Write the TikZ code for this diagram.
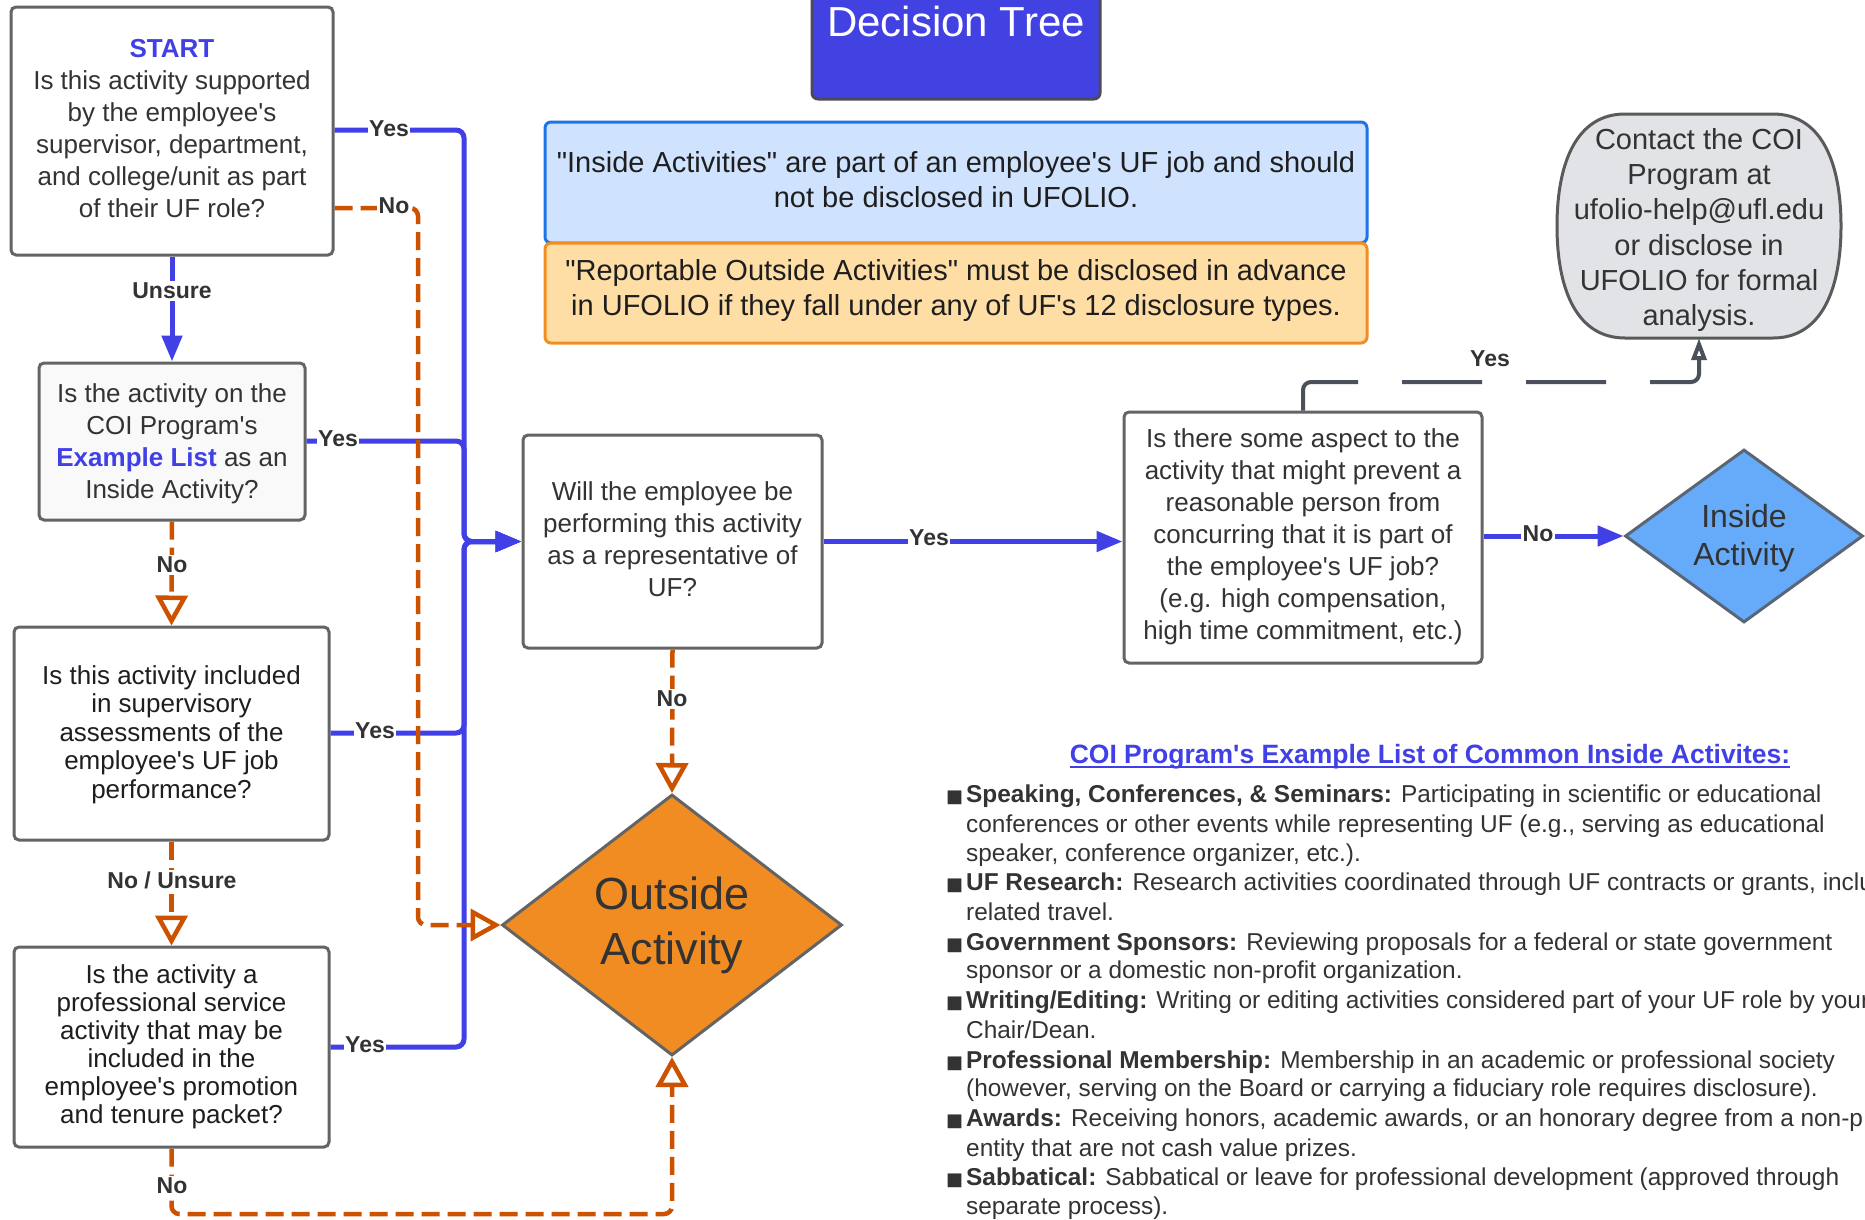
\documentclass[tikz,border=0pt]{standalone}
\usepackage{fontspec}
\setmainfont{Liberation Sans}
\newfontfamily\uffont{Liberation Sans}
\newfontfamily\dejavu{DejaVu Sans}
\usetikzlibrary{arrows.meta,shapes.geometric,calc}
\definecolor{cblue}{HTML}{4040E6}
\definecolor{corange}{HTML}{CC5200}
\definecolor{cgrayline}{HTML}{4B505A}
\definecolor{boxborder}{HTML}{646464}
\definecolor{txt}{HTML}{333333}
\definecolor{txtdark}{HTML}{1E1E1E}
\definecolor{outfill}{HTML}{F08C22}
\definecolor{infill}{HTML}{66AAFA}
\definecolor{inborder}{HTML}{5A6676}
\definecolor{contactfill}{HTML}{E1E3E7}
\definecolor{infoblue}{HTML}{CFE3FF}
\definecolor{infoblueb}{HTML}{1C74E8}
\definecolor{infoorange}{HTML}{FFDEA6}
\definecolor{infoorangeb}{HTML}{F08E22}
\definecolor{titlefill}{HTML}{4242E2}
\definecolor{titleborder}{HTML}{4A4A5A}
\begin{document}
\uffont
\begin{tikzpicture}[x=1pt,y=-1pt,
  qbox/.style={draw=boxborder, line width=3pt, rounded corners=5pt, fill=white, inner sep=0pt},
  qtext/.style={align=center, text=txt, font=\fontsize{26}{32}\selectfont, inner sep=0pt},
  lbl/.style={fill=white, text=txt, font=\fontsize{23}{26}\selectfont\bfseries, inner sep=1.5pt},
  yesline/.style={draw=cblue, line width=5pt, rounded corners=8pt},
  yesarrow/.style={yesline, -{Triangle[length=26pt,width=20pt]}},
  noline/.style={draw=corange, line width=4.5pt, dash pattern=on 18pt off 8pt, rounded corners=8pt, -{Triangle[open,length=30pt,width=32pt]}},
  litem/.style={anchor=mid west, text=txt, font=\fontsize{24.4}{29}\selectfont, inner sep=0pt},
  bul/.style={anchor=mid west, text=txt, font=\dejavu\fontsize{18}{18}\selectfont, inner sep=0pt},
]
\useasboundingbox (0,0) rectangle (1865,1219);
\clip (0,0) rectangle (1865,1219);
\fill[white] (0,0) rectangle (1865,1219);

% title
\node[draw=titleborder, fill=titlefill, line width=3pt, rounded corners=6pt, minimum width=288pt, minimum height=120pt, inner sep=0pt] (titlebox) at (956,39) {};
\node[text=white, font=\fontsize{42}{50}\selectfont, inner sep=0pt] (title) at (956,21.6) {Decision Tree};

% info boxes
\node[draw=infoblueb, fill=infoblue, line width=3pt, rounded corners=6pt, minimum width=822pt, minimum height=121pt, inner sep=0pt] (info1) at (956,182.5) {};
\node[qtext, text=txtdark, font=\fontsize{29}{35}\selectfont] (info1t) at (956,180) {"Inside Activities" are part of an employee's UF job and should\\not be disclosed in UFOLIO.};
\node[draw=infoorangeb, fill=infoorange, line width=3pt, rounded corners=6pt, minimum width=822pt, minimum height=100pt, inner sep=0pt] (info2) at (956,293) {};
\node[qtext, text=txtdark, font=\fontsize{29}{35}\selectfont] (info2t) at (956,290.6) {"Reportable Outside Activities" must be disclosed in advance\\in UFOLIO if they fall under any of UF's 12 disclosure types.};

% question boxes
\node[qbox, minimum width=322pt, minimum height=248pt] (b1) at (172,131) {};
\node[qtext] (b1t) at (172,128.6) {{\bfseries\color{cblue}START}\\Is this activity supported\\by the employee's\\supervisor, department,\\and college/unit as part\\of their UF role?};
\node[qbox, fill={rgb,255:red,249;green,249;blue,249}, minimum width=266pt, minimum height=157pt] (b2) at (172,441.5) {};
\node[qtext] (b2t) at (172,444) {Is the activity on the\\COI Program's\\{\bfseries\color{cblue}Example List} as an\\Inside Activity?};
\node[qbox, minimum width=315pt, minimum height=213pt] (b3) at (171.5,733.5) {};
\node[qtext, text=txtdark, font=\fontsize{26}{28.5}\selectfont] (b3t) at (171.5,734.6) {Is this activity included\\in supervisory\\assessments of the\\employee's UF job\\performance?};
\node[qbox, minimum width=315pt, minimum height=200pt] (b4) at (171.5,1047) {};
\node[qtext, text=txtdark, font=\fontsize{26}{28}\selectfont] (b4t) at (171.5,1047) {Is the activity a\\professional service\\activity that may be\\included in the\\employee's promotion\\and tenure packet?};
\node[qbox, minimum width=299pt, minimum height=213pt] (b5) at (672.5,541.5) {};
\node[qtext] (b5t) at (672.5,539) {Will the employee be\\performing this activity\\as a representative of\\UF?};
\node[qbox, minimum width=358pt, minimum height=251pt] (b6) at (1303,537.5) {};
\node[qtext] (b6t) at (1303,536.4) {Is there some aspect to the\\activity that might prevent a\\reasonable person from\\concurring that it is part of\\the employee's UF job?\\(e.g. high compensation,\\high time commitment, etc.)};

% outcome shapes
\node[diamond, aspect=1.3, draw=boxborder, line width=3pt, fill=outfill, minimum width=340pt, minimum height=261pt, inner sep=0pt] (outside) at (672,925) {};
\node[qtext, font=\fontsize{45}{55}\selectfont] (outsidet) at (672,925) {Outside\\Activity};
\node[diamond, aspect=1.375, draw=inborder, line width=3pt, fill=infill, minimum width=238pt, minimum height=173pt, inner sep=0pt] (inside) at (1744,536) {};
\node[qtext, font=\fontsize{32}{38}\selectfont] (insidet) at (1744,538.4) {Inside\\Activity};

\filldraw[fill=contactfill, draw={rgb,255:red,90;green,90;blue,90}, line width=3pt] (1625,114) -- (1773,114) .. controls (1820,114) and (1841,160) .. (1841,226) .. controls (1841,292) and (1820,338) .. (1773,338) -- (1625,338) .. controls (1578,338) and (1557,292) .. (1557,226) .. controls (1557,160) and (1578,114) .. (1625,114) -- cycle;
\node[minimum width=284pt, minimum height=224pt, inner sep=0pt] (contact) at (1699,226) {};
\node[qtext, font=\fontsize{29}{35.3}\selectfont] (contactt) at (1699,230) {Contact the COI\\Program at\\ufolio-help@ufl.edu\\or disclose in\\UFOLIO for formal\\analysis.};

% connector helper points
\coordinate (t1) at (464,130);
\coordinate (t2) at (464,441);
\coordinate (t3) at (464,733);
\coordinate (t4) at (464,1047);
\coordinate (o1) at (418,208);
\coordinate (n4) at (672,1214);
\coordinate (g1) at (1699,382);

% blue connectors
\draw[yesarrow] (b1.south) -- (b2.north);
\draw[yesarrow] (b1.east |- t1) -- (t1) |- (b5.west);
\draw[yesarrow] (b2.east |- t2) -- (t2) |- (b5.west);
\draw[yesarrow] (b3.east |- t3) -- (t3) |- (b5.west);
\draw[yesarrow] (b4.east |- t4) -- (t4) |- (b5.west);
\draw[yesarrow] (b5.east) -- (b5.east -| b6.west);
\draw[yesarrow] (b6.east |- inside.west) -- (inside.west);

% orange connectors
\draw[noline] (b1.east |- o1) -- (o1) |- (outside.west);
\draw[noline] (b2.south) -- (b3.north);
\draw[noline] (b3.south) -- (b4.north);
\draw[noline] (b4.south) |- (n4) -- (outside.south);
\draw[noline] (b5.south) -- (outside.north);

% gray connector
\draw[draw=cgrayline, line width=4pt, dash pattern=on 80pt off 44pt, rounded corners=8pt, -{Triangle[open,length=22pt,width=15pt]}] (b6.north) |- (g1) -- (contact.south);

% labels
\node[lbl] (ly1) at (389,129) {Yes};
\node[lbl] (ln1) at (394,206) {No};
\node[lbl] (lu1) at (172,291) {Unsure};
\node[lbl] (ly2) at (338,439) {Yes};
\node[lbl] (ln2) at (172,565) {No};
\node[lbl] (ly3) at (375,731) {Yes};
\node[lbl] (ln3) at (172,880) {No / Unsure};
\node[lbl] (ly4) at (365,1045) {Yes};
\node[lbl] (ln4) at (172,1186) {No};
\node[lbl] (ly5) at (929,538) {Yes};
\node[lbl] (ln5) at (672,699) {No};
\node[lbl] (ln6) at (1538,534) {No};
\node[lbl] (ly6) at (1490,359) {Yes};

% example list
\node[text=cblue, font=\fontsize{26.5}{30}\selectfont\bfseries, inner sep=0pt] (ltitle) at (1430,756.5) {COI Program's Example List of Common Inside Activites:};
\draw[cblue, line width=2pt] ($(ltitle.base west)+(0,4)$) -- ($(ltitle.base east)+(0,4)$);

\node[bul] (bu1) at (946,800) {■};
\node[bul] (bu2) at (946,888) {■};
\node[bul] (bu3) at (946,948) {■};
\node[bul] (bu4) at (946,1006) {■};
\node[bul] (bu5) at (946,1066) {■};
\node[bul] (bu6) at (946,1124) {■};
\node[bul] (bu7) at (946,1183) {■};

\node[litem] (li1) at (966,800) {\textbf{Speaking, Conferences, \& Seminars:} Participating in scientific or educational};
\node[litem] (li2) at (966,830) {conferences or other events while representing UF (e.g., serving as educational};
\node[litem] (li3) at (966,859) {speaker, conference organizer, etc.).};
\node[litem] (li4) at (966,888) {\textbf{UF Research:} Research activities coordinated through UF contracts or grants, inclu};
\node[litem] (li5) at (966,918) {related travel.};
\node[litem] (li6) at (966,948) {\textbf{Government Sponsors:} Reviewing proposals for a federal or state government};
\node[litem] (li7) at (966,976) {sponsor or a domestic non-profit organization.};
\node[litem] (li8) at (966,1006) {\textbf{Writing/Editing:} Writing or editing activities considered part of your UF role by your};
\node[litem] (li9) at (966,1036) {Chair/Dean.};
\node[litem] (li10) at (966,1066) {\textbf{Professional Membership:} Membership in an academic or professional society};
\node[litem] (li11) at (966,1094) {(however, serving on the Board or carrying a fiduciary role requires disclosure).};
\node[litem] (li12) at (966,1124) {\textbf{Awards:} Receiving honors, academic awards, or an honorary degree from a non-p};
\node[litem] (li13) at (966,1154) {entity that are not cash value prizes.};
\node[litem] (li14) at (966,1183) {\textbf{Sabbatical:} Sabbatical or leave for professional development (approved through};
\node[litem] (li15) at (966,1212) {separate process).};
\end{tikzpicture}
\end{document}
